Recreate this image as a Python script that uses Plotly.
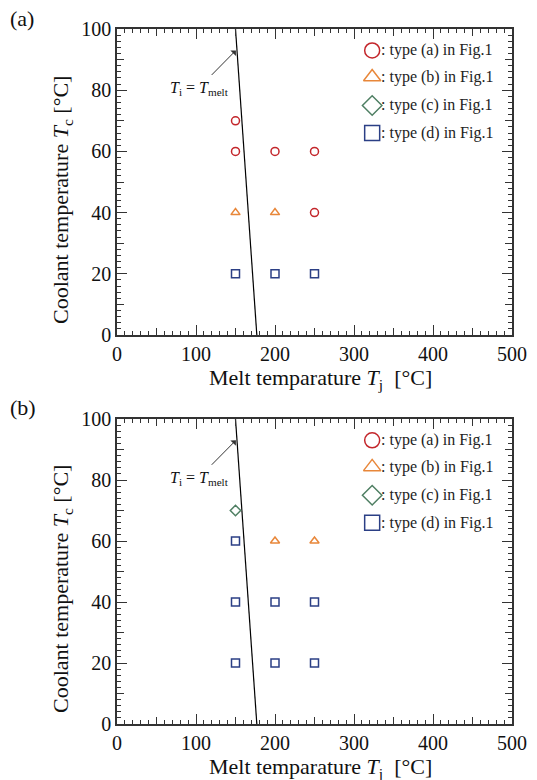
import plotly.graph_objects as go

FONT = "Liberation Serif"

# ---- data ----
# panel (a)
a_type_a_x = [150, 150, 200, 250, 250]
a_type_a_y = [70, 60, 60, 60, 40]
a_type_b_x = [150, 200]
a_type_b_y = [40, 40]
a_type_d_x = [150, 200, 250]
a_type_d_y = [20, 20, 20]
# panel (b)
b_type_b_x = [200, 250]
b_type_b_y = [60, 60]
b_type_c_x = [150]
b_type_c_y = [70]
b_type_d_x = [150, 150, 200, 250, 150, 200, 250]
b_type_d_y = [60, 40, 40, 40, 20, 20, 20]
# Ti = Tmelt line
line_x = [150, 177]
line_y = [100, 0]

legend_labels = [": type (a) in Fig.1", ": type (b) in Fig.1",
                 ": type (c) in Fig.1", ": type (d) in Fig.1"]
legend_symbols = ["circle-open", "triangle-up-open", "diamond-open", "square-open"]
legend_colors = ["#c3262b", "#e8873a", "#4f7f63", "#2b3f85"]
legend_y = [93, 84.3, 75, 66]
legend_x = 323

x_ticks = [0, 100, 200, 300, 400, 500]
y_ticks = [0, 20, 40, 60, 80, 100]

RED, ORANGE, GREEN, BLUE = legend_colors

fig = go.Figure()

def add_panel(k, series):
    xa = "x" if k == 1 else "x2"
    ya = "y" if k == 1 else "y2"
    fig.add_trace(go.Scatter(x=line_x, y=line_y, mode="lines",
                             line=dict(color="black", width=1.2),
                             xaxis=xa, yaxis=ya, showlegend=False, hoverinfo="skip"))
    for xs, ys, sym, col in series:
        fig.add_trace(go.Scatter(x=xs, y=ys, mode="markers",
                                 marker=dict(symbol=sym, size=8, color=col,
                                             line=dict(width=1.5, color=col)),
                                 xaxis=xa, yaxis=ya, showlegend=False))
    for lab, sym, col, ly in zip(legend_labels, legend_symbols, legend_colors, legend_y):
        fig.add_trace(go.Scatter(x=[legend_x], y=[ly], mode="markers",
                                 marker=dict(symbol=sym, size=15, color=col,
                                             line=dict(width=1.5, color=col)),
                                 xaxis=xa, yaxis=ya, showlegend=False, hoverinfo="skip"))
        fig.add_annotation(x=legend_x + 9, y=ly, xref=xa, yref=ya, text=lab,
                           showarrow=False, xanchor="left", yanchor="middle",
                           font=dict(family=FONT, size=16, color="#222"))
    # arrow + label
    fig.add_annotation(x=150.5, y=93, ax=118, ay=84.5, xref=xa, yref=ya,
                       axref=xa, ayref=ya, text="", showarrow=True,
                       arrowhead=1, arrowsize=1.3, arrowwidth=1, arrowcolor="#333")
    fig.add_annotation(x=104, y=80.5, xref=xa, yref=ya,
                       text="<i>T</i><sub>i</sub> = <i>T</i><sub>melt</sub>",
                       showarrow=False, font=dict(family=FONT, size=16, color="#111"))

add_panel(1, [(a_type_a_x, a_type_a_y, "circle-open", RED),
              (a_type_b_x, a_type_b_y, "triangle-up-open", ORANGE),
              (a_type_d_x, a_type_d_y, "square-open", BLUE)])
add_panel(2, [(b_type_c_x, b_type_c_y, "diamond-open", GREEN),
              (b_type_b_x, b_type_b_y, "triangle-up-open", ORANGE),
              (b_type_d_x, b_type_d_y, "square-open", BLUE)])

xdom = [117 / 537, 512 / 537]
ydoms = {1: [1 - 335 / 780, 1 - 29 / 780], 2: [1 - 724 / 780, 1 - 419 / 780]}

axis_font = dict(family=FONT, size=20, color="#111")
title_font = dict(family=FONT, size=22, color="#111")

def xaxis(anchor, show_labels=True, ticklen=10, minor=True):
    d = dict(domain=xdom, range=[0, 500], anchor=anchor, showgrid=False, zeroline=False,
             showline=True, linecolor="#333", linewidth=1.5, mirror="allticks",
             ticks="inside", ticklen=ticklen, tickwidth=1.2, tickcolor="#333",
             tickmode="array", tickvals=x_ticks if show_labels else list(range(50, 500, 100)),
             showticklabels=show_labels, tickfont=axis_font, automargin=False)
    if minor:
        d["minor"] = dict(dtick=10, ticks="inside", ticklen=4, tickcolor="#333", tickwidth=1, showgrid=False)
    return d

def yaxis(anchor, show_labels=True, ticklen=10, minor=True):
    d = dict(range=[0, 100], anchor=anchor, showgrid=False, zeroline=False,
             showline=True, linecolor="#333", linewidth=1.5, mirror="allticks",
             ticks="inside", ticklen=ticklen, tickwidth=1.2, tickcolor="#333",
             tickmode="array", tickvals=y_ticks if show_labels else list(range(10, 100, 20)),
             showticklabels=show_labels, tickfont=axis_font, automargin=False)
    if minor:
        d["minor"] = dict(dtick=2, ticks="inside", ticklen=4, tickcolor="#333", tickwidth=1, showgrid=False)
    return d

x1 = xaxis("y")
x2 = xaxis("y2")
y1 = yaxis("x"); y1["domain"] = ydoms[1]
y2 = yaxis("x2"); y2["domain"] = ydoms[2]

# overlay axes for intermediate ticks
x3 = xaxis("y3", show_labels=False, ticklen=7, minor=False); x3["overlaying"] = "x"
x4 = xaxis("y4", show_labels=False, ticklen=7, minor=False); x4["overlaying"] = "x2"
y3 = yaxis("x3", show_labels=False, ticklen=7, minor=False); y3["overlaying"] = "y"; y3["domain"] = ydoms[1]
y4 = yaxis("x4", show_labels=False, ticklen=7, minor=False); y4["overlaying"] = "y2"; y4["domain"] = ydoms[2]

for xa, ya in [("x3", "y3"), ("x4", "y4")]:
    fig.add_trace(go.Scatter(x=[0], y=[0], mode="markers", marker=dict(opacity=0),
                             xaxis=xa, yaxis=ya, showlegend=False, hoverinfo="skip"))

fig.update_layout(
    width=537, height=780, margin=dict(l=0, r=0, t=0, b=0),
    paper_bgcolor="white", plot_bgcolor="rgba(0,0,0,0)",
    xaxis=x1, yaxis=y1, xaxis2=x2, yaxis2=y2,
    xaxis3=x3, yaxis3=y3, xaxis4=x4, yaxis4=y4,
    showlegend=False,
)

# axis titles and panel labels
xtitle = "Melt temparature <i>T</i><sub>j</sub>  [°C]"
ytitle = "Coolant temperature <i>T</i><sub>c</sub> [°C]"
for dy, lab in [(0, "(a)"), (389, "(b)")]:
    fig.add_annotation(x=320 / 537, y=1 - (379 + dy) / 780, xref="paper", yref="paper",
                       text=xtitle, showarrow=False, xanchor="center", yanchor="middle",
                       font=title_font)
    fig.add_annotation(x=62 / 537, y=1 - (200 + dy) / 780, xref="paper", yref="paper",
                       text=ytitle, showarrow=False, textangle=-90,
                       xanchor="center", yanchor="middle", font=title_font)
    fig.add_annotation(x=8 / 537, y=1 - (18 + dy) / 780, xref="paper", yref="paper", text=lab,
                       showarrow=False, xanchor="left", yanchor="middle",
                       font=dict(family=FONT, size=22, color="#111"))

fig.write_html("out.html", config={"displayModeBar": False},
               post_script="document.body.style.margin='0';")
